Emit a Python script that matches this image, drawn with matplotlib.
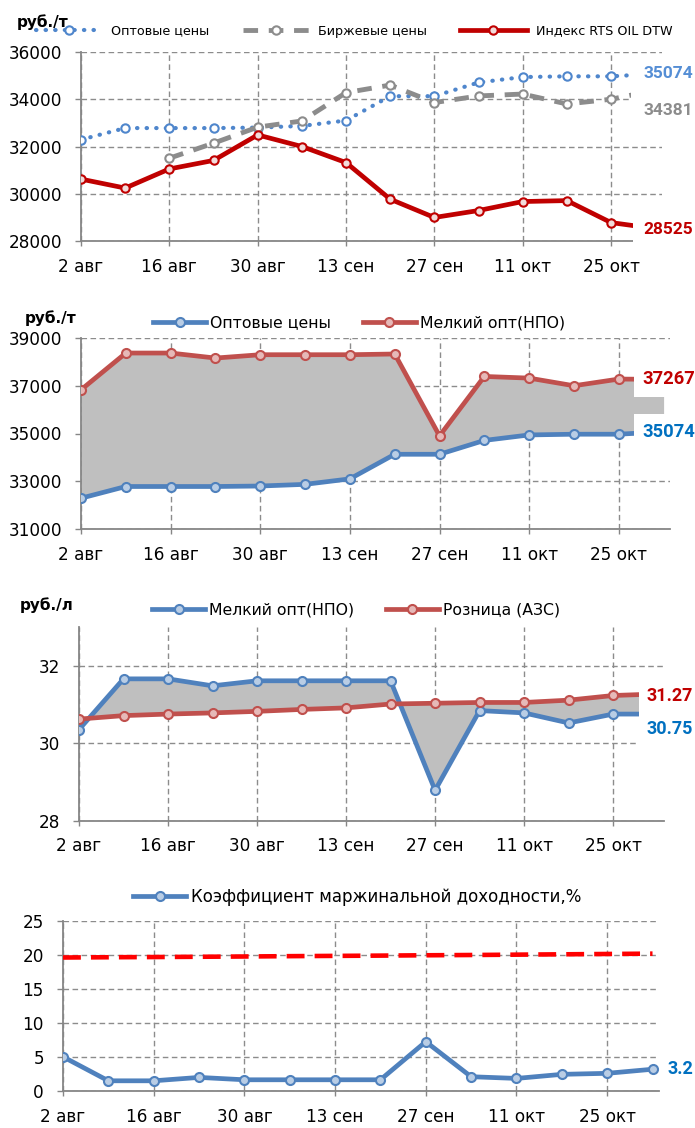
import numpy as np
import pandas as pd
import matplotlib
matplotlib.use('Agg')
import matplotlib.pyplot as plt

plt.rcParams['font.family'] = ['DejaVu Sans']

nan = float('nan')

# ---------------- data ----------------
dates = ['2013-08-02', '2013-08-09', '2013-08-16', '2013-08-23', '2013-08-30',
         '2013-09-06', '2013-09-13', '2013-09-20', '2013-09-27', '2013-10-04',
         '2013-10-11', '2013-10-18', '2013-10-25', '2013-11-01']
tick_dates = ['2013-08-02', '2013-08-16', '2013-08-30', '2013-09-13',
              '2013-09-27', '2013-10-11', '2013-10-25']
tick_labels = ['2 авг', '16 авг', '30 авг', '13 сен', '27 сен', '11 окт', '25 окт']

# chart 1, руб./т
wholesale = [32290, 32780, 32780, 32780, 32800, 32870, 33100, 34130, 34130,
             34710, 34940, 34970, 34970, 35074]
exchange = [nan, nan, 31505, 32140, 32820, 33080, 34280, 34600, 33860,
            34140, 34220, 33800, 34000, 34381]
rts_index = [30620, 30240, 31050, 31410, 32490, 32000, 31320, 29770, 28995,
             29290, 29670, 29710, 28780, 28525]
# chart 2, руб./т
small_wholesale_t = [36830, 38370, 38370, 38160, 38300, 38300, 38300, 38330,
                     34900, 37390, 37320, 37000, 37280, 37267]
# chart 3, руб./л
small_wholesale_l = [30.35, 31.66, 31.66, 31.48, 31.61, 31.61, 31.61, 31.61,
                     28.78, 30.84, 30.78, 30.52, 30.75, 30.75]
retail = [30.62, 30.71, 30.75, 30.78, 30.82, 30.87, 30.91, 31.01, 31.03,
          31.05, 31.05, 31.11, 31.23, 31.27]
# chart 4, %
margin = [5.03, 1.5, 1.5, 2.0, 1.65, 1.65, 1.65, 1.65, 7.25, 2.1, 1.85,
          2.45, 2.6, 3.2]
target = [19.63, 19.67, 19.70, 19.74, 19.78, 19.83, 19.87, 19.91, 19.96,
          20.00, 20.05, 20.10, 20.15, 20.20]

# ---------------- figure ----------------
W, H = 695, 1128
fig = plt.figure(figsize=(W / 100, H / 100), dpi=100)


def rect(l, r, t, b):
    return [l / W, 1 - b / H, (r - l) / W, (b - t) / H]


x = pd.to_datetime(dates)
tx = pd.to_datetime(tick_dates)
x0 = x[0]
x_end = x0 + pd.Timedelta(days=92)
hide_last = slice(0, len(dates) - 1)

GRID = '#8C8C8C'
AXC = '#868686'


def style_axes(ax, ylim, yticks):
    ax.set_xlim(x0, x_end)
    ax.set_ylim(*ylim)
    ax.set_yticks(yticks)
    ax.set_yticklabels([str(v) for v in yticks])
    ax.set_xticks(tx)
    ax.set_xticklabels(tick_labels)
    for s in ['top', 'right']:
        ax.spines[s].set_visible(False)
    for s in ['left', 'bottom']:
        ax.spines[s].set_color(AXC)
        ax.spines[s].set_linewidth(1.3)
    ax.tick_params(axis='x', direction='out', length=3.6, width=1, color=AXC,
                   pad=8.3, labelsize=12.2)
    ax.tick_params(axis='y', direction='out', length=4.3, width=1, color=AXC,
                   pad=9.4, labelsize=12.2)
    ax.grid(True, color=GRID, linestyle=(0, (4, 2.5)), linewidth=1.0)
    ax.set_axisbelow(True)


def end_label(ax, text, val, color, dx_px, dy_px, size, box=True, pad=0.45):
    kw = dict(textcoords='offset points', ha='left', va='center',
              fontsize=size, fontweight='bold', family=['Roboto', 'DejaVu Sans'],
              color=color, annotation_clip=False, zorder=10)
    if box:
        kw['bbox'] = dict(boxstyle=f'square,pad={pad}', fc='white', ec='none')
    ax.annotate(text, xy=(x[-1], val), xytext=(dx_px * 0.72, dy_px * 0.72), **kw)


def unit_text(px, py, s):
    fig.text(px / W, 1 - py / H, s, fontsize=11, fontweight='bold',
             ha='left', va='center')


# ---------------- chart 1 ----------------
ax1 = fig.add_axes(rect(81, 661.5, 52, 241))
style_axes(ax1, (28000, 36000), [28000, 30000, 32000, 34000, 36000])
l1, = ax1.plot(x, wholesale, color='#4F86CC', lw=3, linestyle=(0, (0.1, 2.2)),
               dash_capstyle='round', marker='o', ms=6, mfc='white', mec='#4F86CC',
               mew=1.5, markevery=hide_last, label='Оптовые цены', zorder=3)
l2, = ax1.plot(x, exchange, color='#8C8C8C', lw=3.5, linestyle=(0, (3, 2.2)),
               marker='o', ms=6, mfc='white', mec='#8C8C8C', mew=1.5,
               markevery=hide_last, label='Биржевые цены', zorder=3)
l3, = ax1.plot(x, rts_index, color='#C00000', lw=3.4, marker='o', ms=6,
               mfc='#F2DCDB', mec='#C00000', mew=1.5, markevery=hide_last,
               label='Индекс RTS OIL DTW', zorder=4)
ax1.legend(handles=[l1, l2, l3], loc='center', bbox_to_anchor=(354 / W, 1 - 31 / H),
           bbox_transform=fig.transFigure, ncol=3, frameon=False, fontsize=9.2,
           handlelength=5.2, handletextpad=0.7, columnspacing=2.6)
unit_text(17, 22, 'руб./т')
end_label(ax1, f'{wholesale[-1]}', wholesale[-1], '#558ED5', -12, 0, 12.5, pad=0.7)
end_label(ax1, f'{exchange[-1]}', exchange[-1], '#8C8C8C', -12, -20, 12.5, pad=0.7)
end_label(ax1, f'{rts_index[-1]}', rts_index[-1], '#C00000', -12, -1, 12.5, pad=0.6)

# ---------------- chart 2 ----------------
BLUE = '#4F81BD'
RED = '#C0504D'
ax2 = fig.add_axes(rect(81, 670, 338, 529))
style_axes(ax2, (31000, 39000), [31000, 33000, 35000, 37000, 39000])
ax2.fill_between(x, wholesale, small_wholesale_t, color='#BFBFBF', lw=0, zorder=1)
m1, = ax2.plot(x, wholesale, color=BLUE, lw=3.4, marker='o', ms=6.5, mfc='#B9CDE5',
               mec=BLUE, mew=1.5, markevery=hide_last, label='Оптовые цены', zorder=3)
m2, = ax2.plot(x, small_wholesale_t, color=RED, lw=3.4, marker='o', ms=6.5,
               mfc='#E6B9B8', mec=RED, mew=1.5, markevery=hide_last,
               label='Мелкий опт(НПО)', zorder=3)
ax2.legend(handles=[m1, m2], loc='center', bbox_to_anchor=(359 / W, 1 - 323 / H),
           bbox_transform=fig.transFigure, ncol=2, frameon=False, fontsize=11.3,
           handlelength=3.4, handletextpad=0.25, columnspacing=2.0)
unit_text(25, 318, 'руб./т')
end_label(ax2, f'{small_wholesale_t[-1]}', small_wholesale_t[-1], '#C00000', -21, 0, 13.2)
end_label(ax2, f'{wholesale[-1]}', wholesale[-1], '#0070C0', -21, 0, 13.2)

# ---------------- chart 3 ----------------
ax3 = fig.add_axes(rect(79, 664, 627, 820.5))
style_axes(ax3, (28, 33), [28, 30, 32])
ax3.fill_between(x, small_wholesale_l, retail, color='#BFBFBF', lw=0,
                 interpolate=True, zorder=1)
n1, = ax3.plot(x, small_wholesale_l, color=BLUE, lw=3.4, marker='o', ms=6.5,
               mfc='#B9CDE5', mec=BLUE, mew=1.5, markevery=hide_last,
               label='Мелкий опт(НПО)', zorder=3)
n2, = ax3.plot(x, retail, color=RED, lw=3.4, marker='o', ms=6.5, mfc='#E6B9B8',
               mec=RED, mew=1.5, markevery=hide_last, label='Розница (АЗС)', zorder=3)
ax3.legend(handles=[n1, n2], loc='center', bbox_to_anchor=(356 / W, 1 - 610 / H),
           bbox_transform=fig.transFigure, ncol=2, frameon=False, fontsize=11.3,
           handlelength=3.4, handletextpad=0.25, columnspacing=2.0)
unit_text(20, 605, 'руб./л')
end_label(ax3, f'{retail[-1]:.2f}', retail[-1], '#C00000', -11, -2, 13)
end_label(ax3, f'{small_wholesale_l[-1]:.2f}', small_wholesale_l[-1], '#0070C0',
          -11, -15, 13)

# ---------------- chart 4 ----------------
ax4 = fig.add_axes(rect(63, 659, 921, 1091))
style_axes(ax4, (0, 25), [0, 5, 10, 15, 20, 25])
ax4.plot(x, target, color='#FF0000', lw=3.3, linestyle=(0, (3.9, 2.2)), zorder=3,
         label='_nolegend_')
k1, = ax4.plot(x, margin, color=BLUE, lw=3.4, marker='o', ms=6.5, mfc='#B9CDE5',
               mec=BLUE, mew=1.5, label='Коэффициент маржинальной доходности,%',
               zorder=4)
ax4.legend(handles=[k1], loc='center', bbox_to_anchor=(357 / W, 1 - 897 / H),
           bbox_transform=fig.transFigure, ncol=1, frameon=False, fontsize=12,
           handlelength=3.2, handletextpad=0.25)
end_label(ax4, f'{margin[-1]:.1f}', margin[-1], '#0070C0', 15, 0, 13, box=False)

fig.savefig('out.png', dpi=100)
